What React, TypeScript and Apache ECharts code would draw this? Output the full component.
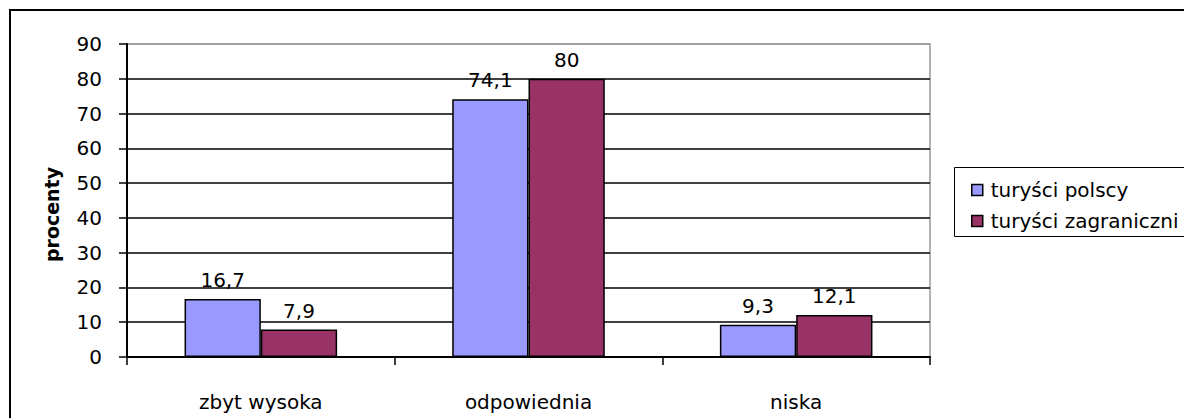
import React, { useEffect, useRef } from "react";
import * as echarts from "echarts";

const categories = ["zbyt wysoka", "odpowiednia", "niska"];
const seriesNames = ["turyści polscy", "turyści zagraniczni"];
const polscy = [16.7, 74.1, 9.3];
const zagraniczni = [7.9, 80, 12.1];
const colors = ["#9999FF", "#993366"];

const fmt = (v: number) => String(v).replace(".", ",");

export default function App() {
  const ref = useRef<HTMLDivElement>(null);
  useEffect(() => {
    const chart = echarts.init(ref.current!, undefined, { renderer: "svg" });
    const font = "'DejaVu Sans', sans-serif";
    const labelCfg = {
      show: true,
      position: "top",
      color: "#000",
      fontSize: 20,
      fontFamily: font,
      distance: 9,
      formatter: (p: any) => fmt(p.value),
    };
    chart.setOption({
      animation: false,
      backgroundColor: "#fff",
      textStyle: { fontFamily: font },
      graphic: [
        {
          type: "rect",
          shape: { x: 10, y: 10, width: 1200, height: 440 },
          style: { fill: "none", stroke: "#000", lineWidth: 2 },
          z: -1,
        },
        {
          type: "rect",
          shape: { x: 954.5, y: 167.5, width: 260, height: 69 },
          style: { fill: "#fff", stroke: "#000", lineWidth: 1 },
          z: 0,
        },
      ],
      legend: {
        orient: "vertical",
        left: 971,
        top: 180,
        itemWidth: 11,
        itemHeight: 11,
        itemGap: 11,
        icon: "rect",
        padding: 0,
        itemStyle: { borderColor: "#000", borderWidth: 1.5 },
        textStyle: { fontSize: 20, color: "#000", fontFamily: font, padding: [0, 0, 0, 3] },
        data: seriesNames,
        z: 5,
      },
      grid: {
        left: 127,
        top: 44,
        width: 803,
        height: 313,
        show: true,
        borderColor: "#999",
        borderWidth: 1.5,
      },
      xAxis: {
        type: "category",
        data: categories,
        axisLine: { lineStyle: { color: "#000", width: 2 } },
        axisTick: { show: true, length: 8, lineStyle: { color: "#000", width: 1.5 } },
        axisLabel: { color: "#000", fontSize: 20, fontFamily: font, margin: 35 },
      },
      yAxis: {
        type: "value",
        min: 0,
        max: 90,
        interval: 10,
        name: "procenty",
        nameLocation: "middle",
        nameGap: 66,
        nameTextStyle: {
          fontSize: 19,
          fontWeight: "bold",
          color: "#000",
          fontFamily: font,
          padding: [0, 28, 0, 0],
        },
        axisLine: { show: true, lineStyle: { color: "#000", width: 2 } },
        axisTick: { show: true, length: 8, lineStyle: { color: "#000", width: 1.5 } },
        axisLabel: { color: "#000", fontSize: 20, fontFamily: font, margin: 25 },
        splitLine: {
          show: true,
          lineStyle: {
            color: ["#000", "#000", "#000", "#000", "#000", "#000", "#000", "#000", "#000", "#999"],
            width: 1.5,
          },
        },
      },
      series: [
        {
          name: seriesNames[0],
          type: "bar",
          data: polscy,
          barGap: "0%",
          barCategoryGap: "43%",
          itemStyle: { color: colors[0], borderColor: "#000", borderWidth: 1.5 },
          label: labelCfg,
        },
        {
          name: seriesNames[1],
          type: "bar",
          data: zagraniczni,
          itemStyle: { color: colors[1], borderColor: "#000", borderWidth: 1.5 },
          label: labelCfg,
        },
      ],
    });
    return () => chart.dispose();
  }, []);
  return (
    <div
      ref={ref}
      style={{ position: "absolute", left: 0, top: 0, width: 1184, height: 418 }}
    />
  );
}
